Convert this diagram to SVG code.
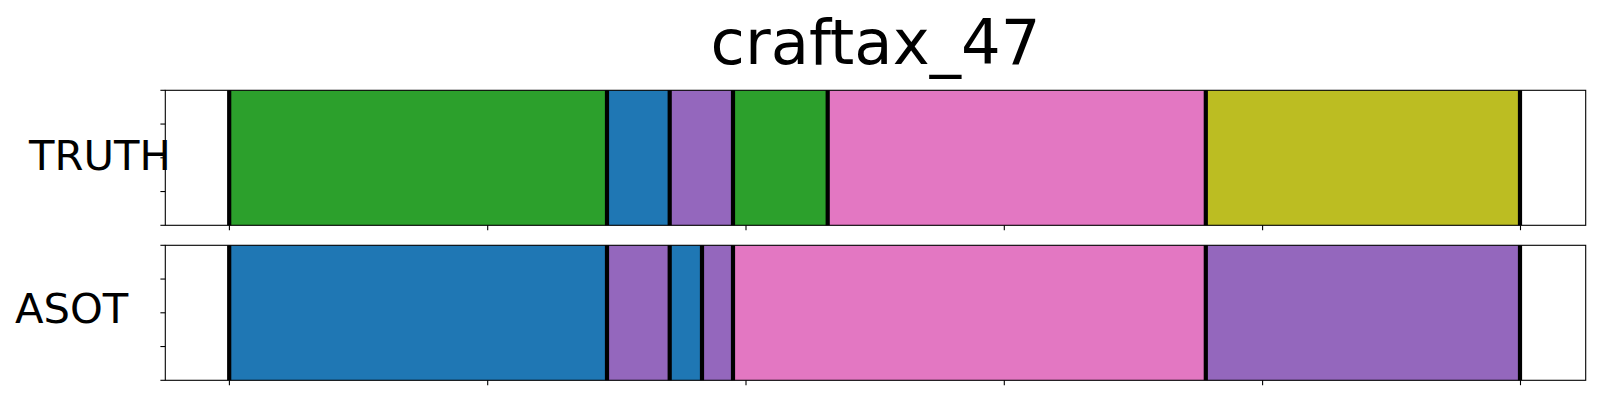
<svg xmlns="http://www.w3.org/2000/svg" width="1600" height="400" viewBox="0 0 1600 400">
<style>
.g{fill:#2ca02c}.b{fill:#1f77b4}.p{fill:#9467bd}.k{fill:#e377c2}.o{fill:#bcbd22}
.bd{stroke:#000;stroke-width:4.2}
.sp{fill:none;stroke:#000;stroke-width:1.1}
.tk{stroke:#000;stroke-width:1.1}
.lbl{font-family:"DejaVu Sans",sans-serif;font-size:41.7px;fill:#000}
.ttl{font-family:"DejaVu Sans",sans-serif;font-size:62.5px;fill:#000}
</style>
<rect width="1600" height="400" fill="#fff"/>
<text class="ttl" x="875.5" y="63.5" text-anchor="middle">craftax_47</text>
<g id="truth">
<rect x="165.3" y="90.3" width="1420.4" height="135" fill="#fff"/>
<rect class="g" x="229.2" y="90.3" width="377.8" height="135"/>
<rect class="b" x="607" y="90.3" width="62.7" height="135"/>
<rect class="p" x="669.7" y="90.3" width="63.3" height="135"/>
<rect class="g" x="733" y="90.3" width="94.7" height="135"/>
<rect class="k" x="827.7" y="90.3" width="378.1" height="135"/>
<rect class="o" x="1205.8" y="90.3" width="314.2" height="135"/>
<g class="bd">
<line x1="229.2" y1="90.3" x2="229.2" y2="225.3"/>
<line x1="607" y1="90.3" x2="607" y2="225.3"/>
<line x1="669.7" y1="90.3" x2="669.7" y2="225.3"/>
<line x1="733" y1="90.3" x2="733" y2="225.3"/>
<line x1="827.7" y1="90.3" x2="827.7" y2="225.3"/>
<line x1="1205.8" y1="90.3" x2="1205.8" y2="225.3"/>
<line x1="1520" y1="90.3" x2="1520" y2="225.3"/>
</g>
<rect class="sp" x="165.3" y="90.3" width="1420.4" height="135"/>
<g class="tk">
<line x1="160.4" y1="90.3" x2="165.3" y2="90.3"/>
<line x1="160.4" y1="124.05" x2="165.3" y2="124.05"/>
<line x1="160.4" y1="157.8" x2="165.3" y2="157.8"/>
<line x1="160.4" y1="191.55" x2="165.3" y2="191.55"/>
<line x1="160.4" y1="225.3" x2="165.3" y2="225.3"/>
<line x1="229.4" y1="225.3" x2="229.4" y2="230.2"/>
<line x1="487.7" y1="225.3" x2="487.7" y2="230.2"/>
<line x1="746" y1="225.3" x2="746" y2="230.2"/>
<line x1="1004.3" y1="225.3" x2="1004.3" y2="230.2"/>
<line x1="1262.6" y1="225.3" x2="1262.6" y2="230.2"/>
<line x1="1520.5" y1="225.3" x2="1520.5" y2="230.2"/>
</g>
<text class="lbl" x="29" y="170">TRUTH</text>
</g>
<g id="asot">
<rect x="165.3" y="245.3" width="1420.4" height="135" fill="#fff"/>
<rect class="b" x="229.2" y="245.3" width="377.8" height="135"/>
<rect class="p" x="607" y="245.3" width="62.7" height="135"/>
<rect class="b" x="669.7" y="245.3" width="32.3" height="135"/>
<rect class="p" x="702" y="245.3" width="31" height="135"/>
<rect class="k" x="733" y="245.3" width="472.8" height="135"/>
<rect class="p" x="1205.8" y="245.3" width="314.2" height="135"/>
<g class="bd">
<line x1="229.2" y1="245.3" x2="229.2" y2="380.3"/>
<line x1="607" y1="245.3" x2="607" y2="380.3"/>
<line x1="669.7" y1="245.3" x2="669.7" y2="380.3"/>
<line x1="702" y1="245.3" x2="702" y2="380.3"/>
<line x1="733" y1="245.3" x2="733" y2="380.3"/>
<line x1="1205.8" y1="245.3" x2="1205.8" y2="380.3"/>
<line x1="1520" y1="245.3" x2="1520" y2="380.3"/>
</g>
<rect class="sp" x="165.3" y="245.3" width="1420.4" height="135"/>
<g class="tk">
<line x1="160.4" y1="245.3" x2="165.3" y2="245.3"/>
<line x1="160.4" y1="279.05" x2="165.3" y2="279.05"/>
<line x1="160.4" y1="312.8" x2="165.3" y2="312.8"/>
<line x1="160.4" y1="346.55" x2="165.3" y2="346.55"/>
<line x1="160.4" y1="380.3" x2="165.3" y2="380.3"/>
<line x1="229.4" y1="380.3" x2="229.4" y2="385.2"/>
<line x1="487.7" y1="380.3" x2="487.7" y2="385.2"/>
<line x1="746" y1="380.3" x2="746" y2="385.2"/>
<line x1="1004.3" y1="380.3" x2="1004.3" y2="385.2"/>
<line x1="1262.6" y1="380.3" x2="1262.6" y2="385.2"/>
<line x1="1520.5" y1="380.3" x2="1520.5" y2="385.2"/>
</g>
<text class="lbl" x="15" y="322.7">ASOT</text>
</g>
</svg>
